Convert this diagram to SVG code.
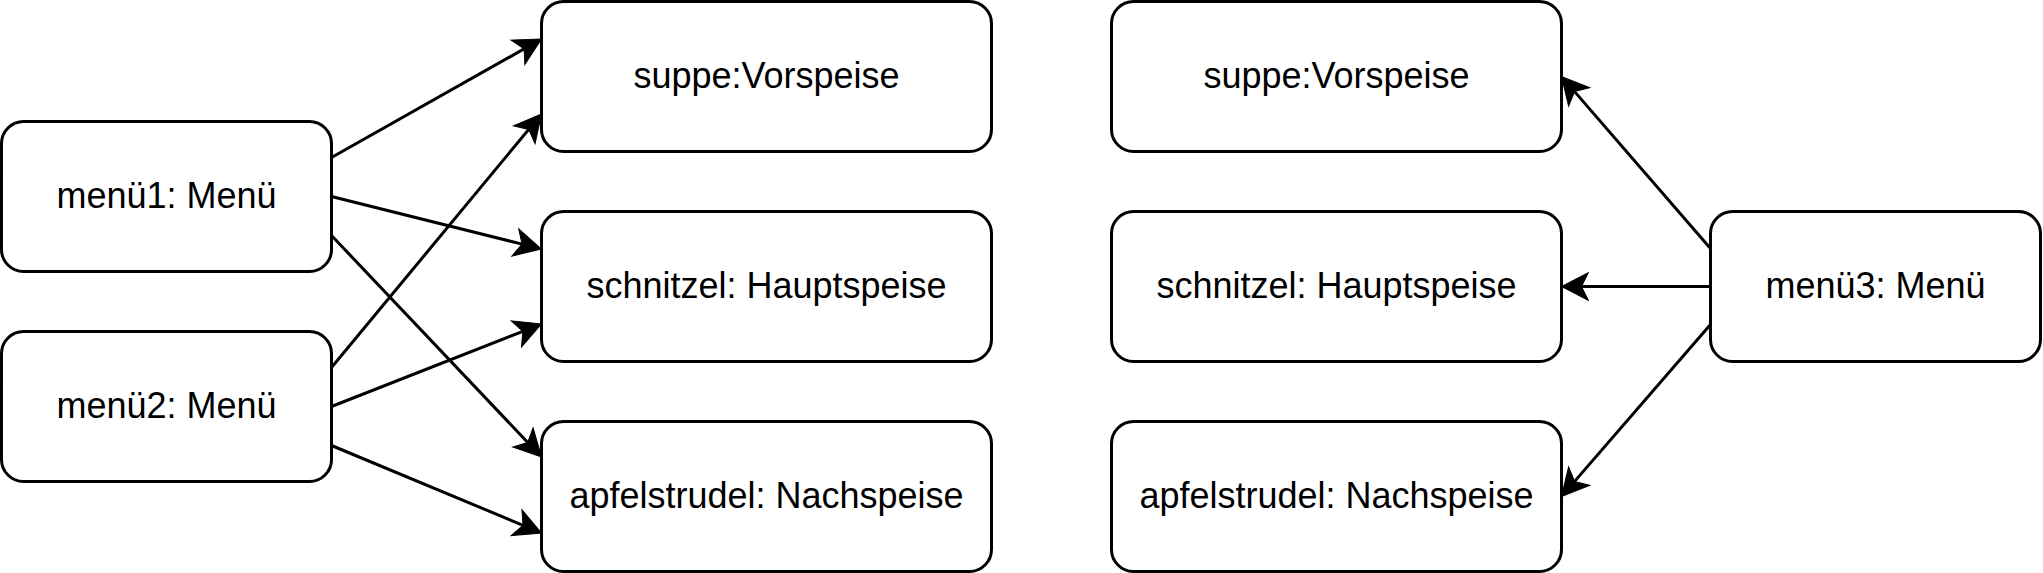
<svg xmlns="http://www.w3.org/2000/svg" width="2043" height="573" viewBox="0 0 2043 573">
<style>
.box{fill:#fff;stroke:#000;stroke-width:3}
.lbl{font-family:"Liberation Sans",Arial,sans-serif;font-size:36px;fill:#000;text-anchor:middle}
.edge{stroke:#000;stroke-width:3;fill:none;marker-end:url(#arr)}
</style>
<defs>
<marker id="arr" markerUnits="userSpaceOnUse" viewBox="-8 -15 30 30" markerWidth="30" markerHeight="30" refX="0" refY="0" orient="auto" overflow="visible">
<path d="M20,0 L-7,-14 L0,0 L-7,14 Z" fill="#000" stroke="#000" stroke-width="1"/>
</marker>
</defs>
<rect width="2043" height="573" fill="#fff"/>
<g id="menu1"><rect class="box" x="1.5" y="121.5" width="330" height="150" rx="22" ry="22"/><text class="lbl" x="166.5" y="207.5">menü1: Menü</text></g>
<g id="menu2"><rect class="box" x="1.5" y="331.5" width="330" height="150" rx="22" ry="22"/><text class="lbl" x="166.5" y="417.5">menü2: Menü</text></g>
<g id="suppe1"><rect class="box" x="541.5" y="1.5" width="450" height="150" rx="22" ry="22"/><text class="lbl" x="766.5" y="87.5">suppe:Vorspeise</text></g>
<g id="schnitzel1"><rect class="box" x="541.5" y="211.5" width="450" height="150" rx="22" ry="22"/><text class="lbl" x="766.5" y="297.5">schnitzel: Hauptspeise</text></g>
<g id="apfel1"><rect class="box" x="541.5" y="421.5" width="450" height="150" rx="22" ry="22"/><text class="lbl" x="766.5" y="507.5">apfelstrudel: Nachspeise</text></g>
<g id="suppe2"><rect class="box" x="1111.5" y="1.5" width="450" height="150" rx="22" ry="22"/><text class="lbl" x="1336.5" y="87.5">suppe:Vorspeise</text></g>
<g id="schnitzel2"><rect class="box" x="1111.5" y="211.5" width="450" height="150" rx="22" ry="22"/><text class="lbl" x="1336.5" y="297.5">schnitzel: Hauptspeise</text></g>
<g id="apfel2"><rect class="box" x="1111.5" y="421.5" width="450" height="150" rx="22" ry="22"/><text class="lbl" x="1336.5" y="507.5">apfelstrudel: Nachspeise</text></g>
<g id="menu3"><rect class="box" x="1710.5" y="211.5" width="330" height="150" rx="22" ry="22"/><text class="lbl" x="1875.5" y="297.5">menü3: Menü</text></g>
<g id="connectors">
<line class="edge" x1="331.5" y1="157.5" x2="524.08" y2="48.83"/>
<line class="edge" x1="331.5" y1="196.5" x2="522.10" y2="244.15"/>
<line class="edge" x1="331.5" y1="235.5" x2="527.74" y2="442.49"/>
<line class="edge" x1="331.5" y1="367.5" x2="528.74" y2="129.40"/>
<line class="edge" x1="331.5" y1="406.5" x2="522.88" y2="331.31"/>
<line class="edge" x1="331.5" y1="445.5" x2="523.04" y2="525.31"/>
<line class="edge" x1="1710.5" y1="248.5" x2="1574.60" y2="91.62"/>
<line class="edge" x1="1710.5" y1="286.5" x2="1581.5" y2="286.5"/>
<line class="edge" x1="1710.5" y1="324.5" x2="1574.60" y2="481.38"/>
</g>
</svg>
